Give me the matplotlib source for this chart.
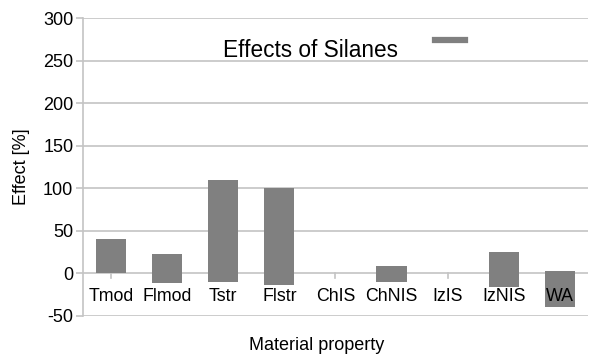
import matplotlib
matplotlib.use("Agg")
import matplotlib.pyplot as plt
from matplotlib.lines import Line2D

plt.rcParams["font.family"] = ["Liberation Sans", "DejaVu Sans"]

# data (floating bars: bottom .. top, in %)
categories = ["Tmod", "Flmod", "Tstr", "Flstr", "ChIS", "ChNIS", "IzIS", "IzNIS", "WA"]
bar_top = [41, 23, 110, 100, 0, 9, 0, 25, 3]
bar_bottom = [0, -11, -10, -14, 0, -10, 0, -16, -39]
y_ticks = [-50, 0, 50, 100, 150, 200, 250, 300]

GRID = "#c4c4c4"
BAR = "#808080"

fig = plt.figure(figsize=(5.89, 3.55), dpi=100)
ax = fig.add_axes([0.141, 0.110, 0.857, 0.838])

x = list(range(len(categories)))
heights = [t - b for t, b in zip(bar_top, bar_bottom)]
ax.bar(x, heights, bottom=bar_bottom, width=0.54, color=BAR, zorder=2)

ax.set_xlim(-0.5, len(categories) - 0.5)
ax.set_ylim(-50, 300)
ax.set_yticks(y_ticks)
ax.set_yticklabels([str(v) for v in y_ticks], fontsize=13)
ax.grid(axis="y", color=GRID, linewidth=1.2, zorder=0)
ax.tick_params(axis="y", length=5, color=GRID, width=1.2, pad=2)

for s in ("top", "right", "bottom"):
    ax.spines[s].set_visible(False)
ax.spines["left"].set_color(GRID)
ax.spines["left"].set_linewidth(1.2)

# category axis sits at zero, labels drawn over the bars
ax.set_xticks([])
for xi, name in zip(x, categories):
    ax.plot([xi, xi], [0, -5], color=GRID, linewidth=1.2, zorder=1)
    ax.text(xi, -17, name, ha="center", va="top", fontsize=12.8, zorder=3)

fig.text(0.036, 0.53, "Effect [%]", rotation=90, ha="center", va="center", fontsize=13)
fig.text(0.537, 0.028, "Material property", ha="center", va="center", fontsize=13)

ax.text(3.55, 262, "Effects of Silanes", ha="center", va="center", fontsize=16.3, zorder=3)
ax.legend(handles=[Line2D([], [], color=BAR, linewidth=4.5)], labels=[""],
          loc="upper left", bbox_to_anchor=(0.672, 0.99), frameon=False,
          handlelength=2.2, handletextpad=0)

fig.savefig("out.png", dpi=100)
